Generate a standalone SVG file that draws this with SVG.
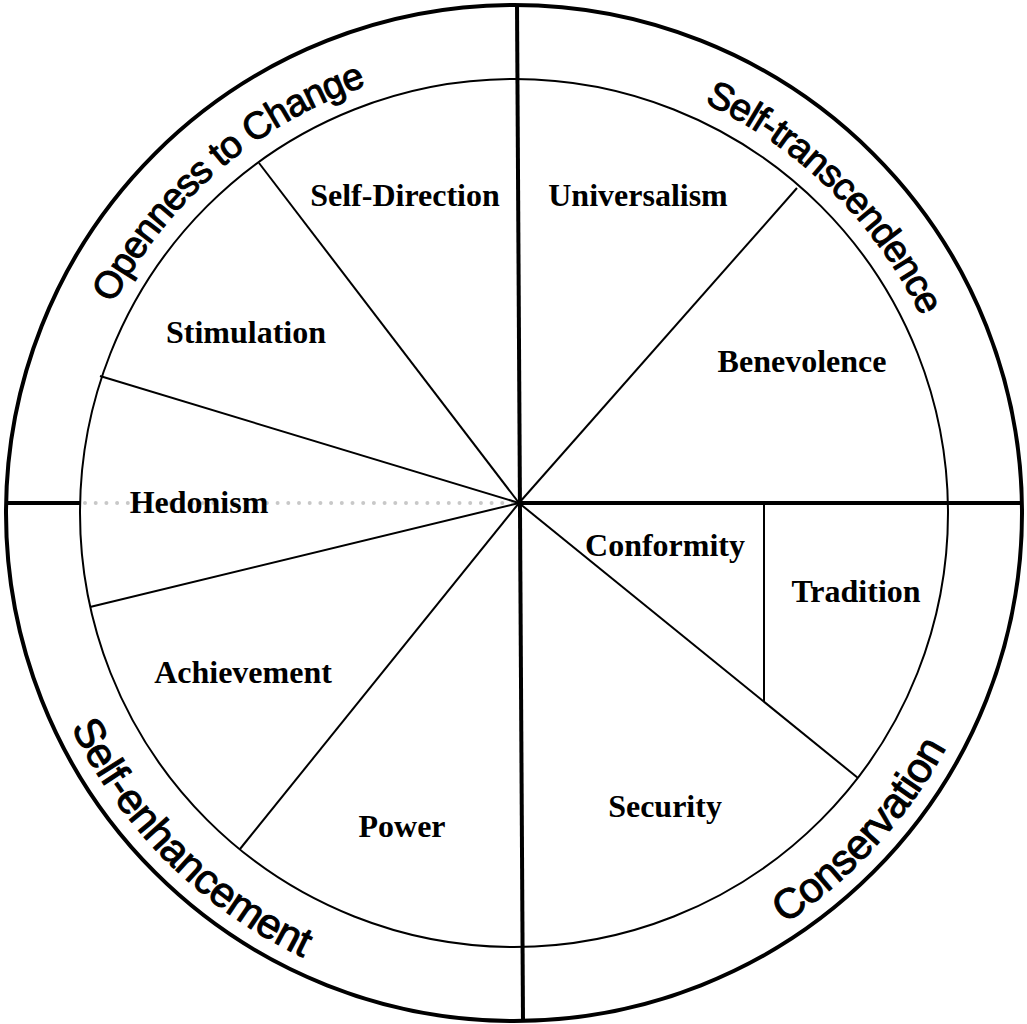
<svg xmlns="http://www.w3.org/2000/svg" width="1027" height="1024" viewBox="0 0 1027 1024">
<style>
.lbl{font-family:"Liberation Serif","Times New Roman",serif;font-weight:bold;font-size:32px;text-anchor:middle;fill:#000}
.arc{font-family:"Liberation Sans",Arial,sans-serif;fill:#000;stroke:#000;stroke-width:1;text-anchor:middle}
.arcT{font-size:38px;letter-spacing:-1px}
.arcB{font-size:42px;letter-spacing:-0.5px}
.thin{stroke:#000;stroke-width:2;fill:none}
.thick{stroke:#000;stroke-width:4;fill:none}
</style>
<defs>
<path id="topArc" d="M 62,513 A 452 452 0 0 1 966,513"/>
<path id="botArc" d="M 22,513 A 492 492 0 0 0 1006,513"/>
</defs>
<rect width="1027" height="1024" fill="#fff"/>
<g id="circles">
<circle cx="514" cy="513" r="508" class="thick"/>
<circle cx="514" cy="513" r="434" class="thin"/>
</g>
<g id="connectors">
<line x1="85" y1="503" x2="519" y2="503" stroke="#c8c8c8" stroke-width="4" stroke-linecap="round" stroke-dasharray="0 10.7"/>
<line x1="6" y1="503" x2="80" y2="503" class="thick"/>
<line x1="519" y1="503" x2="1022" y2="503" class="thick"/>
<line x1="517" y1="4" x2="523" y2="1021" class="thick"/>
<line x1="519" y1="503" x2="259" y2="163" class="thin"/>
<line x1="519" y1="503" x2="797" y2="188" class="thin"/>
<line x1="519" y1="503" x2="100" y2="376" class="thin"/>
<line x1="519" y1="503" x2="90" y2="607" class="thin"/>
<line x1="519" y1="503" x2="240" y2="849" class="thin"/>
<line x1="519" y1="503" x2="858" y2="778" class="thin"/>
<line x1="764" y1="503" x2="764" y2="702" class="thin"/>
</g>
<g id="node-self-direction"><text class="lbl" x="405" y="206">Self-Direction</text></g>
<g id="node-universalism"><text class="lbl" x="638" y="206">Universalism</text></g>
<g id="node-stimulation"><text class="lbl" x="246" y="343">Stimulation</text></g>
<g id="node-benevolence"><text class="lbl" x="802" y="372">Benevolence</text></g>
<g id="node-hedonism"><text class="lbl" x="199" y="513">Hedonism</text></g>
<g id="node-conformity"><text class="lbl" x="665" y="556">Conformity</text></g>
<g id="node-tradition"><text class="lbl" x="856" y="602">Tradition</text></g>
<g id="node-achievement"><text class="lbl" x="243" y="683">Achievement</text></g>
<g id="node-power"><text class="lbl" x="402" y="837">Power</text></g>
<g id="node-security"><text class="lbl" x="665" y="817">Security</text></g>
<g id="group-openness"><text class="arc arcT"><textPath href="#topArc" startOffset="388">Openness to Change</textPath></text></g>
<g id="group-self-transcendence"><text class="arc arcT"><textPath href="#topArc" startOffset="1061">Self-transcendence</textPath></text></g>
<g id="group-self-enhancement"><text class="arc arcB"><textPath href="#botArc" startOffset="388">Self-enhancement</textPath></text></g>
<g id="group-conservation"><text class="arc arcB"><textPath href="#botArc" startOffset="1180">Conservation</textPath></text></g>
</svg>
